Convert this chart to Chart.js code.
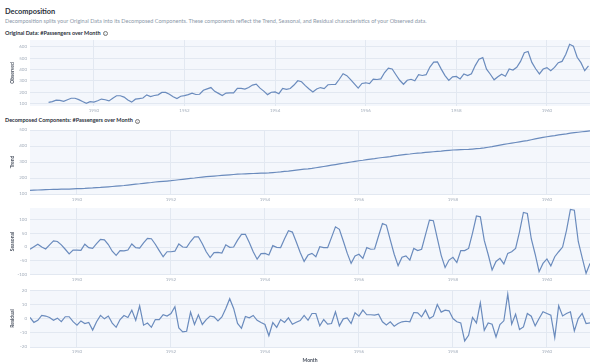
<!DOCTYPE html>
<html>
<head>
<meta charset="utf-8">
<script src="https://cdn.jsdelivr.net/npm/chart.js@4.4.1/dist/chart.umd.min.js"></script>
<style>
  body { margin: 0; width: 600px; height: 364px; background: #fff; font-family: Lato, sans-serif; position: relative; overflow: hidden; }
  .txt { position: absolute; left: 5px; white-space: nowrap; line-height: 1; }
  .h1 { top: 8px; font-size: 7.4px; font-weight: 700; color: #2b313b; }
  .desc { top: 18.6px; font-size: 5.55px; color: #8b97a8; }
  .h2 { font-size: 5.5px; font-weight: 700; color: #2b313b; }
  .info { display: inline-block; box-sizing: border-box; width: 5px; height: 5px; border: 0.6px solid #777; border-radius: 50%;
          font-size: 3.6px; line-height: 3.9px; text-align: center; vertical-align: -0.3px; margin-left: 2px; color: #777; font-weight: 400; }
  canvas { position: absolute; left: 0; }
</style>
</head>
<body>
<div class="txt h1">Decomposition</div>
<div class="txt desc">Decomposition splits your Original Data into its Decomposed Components. These components reflect the Trend, Seasonal, and Residual characteristics of your Observed data.</div>
<div class="txt h2" style="top:30.6px">Original Data: #Passengers over Month<span class="info">i</span></div>
<div class="txt h2" style="top:118.3px">Decomposed Components: #Passengers over Month<span class="info">i</span></div>

<canvas id="observed-chart" width="600" height="80" style="top:34px"></canvas>
<canvas id="trend-chart" width="600" height="79" style="top:124px"></canvas>
<canvas id="seasonal-chart" width="600" height="81" style="top:202px"></canvas>
<canvas id="residual-chart" width="600" height="80" style="top:284px"></canvas>

<script>
const startYear = 1949;
const yearTicks = [1950, 1952, 1954, 1956, 1958, 1960];

const observedTicks = [100, 200, 300, 400, 500, 600];
const trendTicks = [100, 150, 200, 250, 300, 350, 400, 450, 500];
const seasonalTicks = [-100, -50, 0, 50, 100];
const residualTicks = [-20, -15, -10, -5, 0, 5, 10, 15, 20];

const observed = [
    112, 118, 132, 129, 121, 135, 148, 148, 136, 119, 104, 118,
    115, 126, 141, 135, 125, 149, 170, 170, 158, 133, 114, 140,
    145, 150, 178, 163, 172, 178, 199, 199, 184, 162, 146, 166,
    171, 180, 193, 181, 183, 218, 230, 242, 209, 191, 172, 194,
    196, 196, 236, 235, 229, 243, 264, 272, 237, 211, 180, 201,
    204, 188, 235, 227, 234, 264, 302, 293, 259, 229, 203, 229,
    242, 233, 267, 269, 270, 315, 364, 347, 312, 274, 237, 278,
    284, 277, 317, 313, 318, 374, 413, 405, 355, 306, 271, 306,
    315, 301, 356, 348, 355, 422, 465, 467, 404, 347, 305, 336,
    340, 318, 362, 348, 363, 435, 491, 505, 404, 359, 310, 337,
    360, 342, 406, 396, 420, 472, 548, 559, 463, 407, 362, 405,
    417, 391, 419, 461, 472, 535, 622, 606, 508, 461, 390, 432
];

const trend = [
    123, 124, 125, 126, 127, 128, 129, 129, 130, 131, 131, 132,
    133, 134, 135, 137, 138, 140, 141, 143, 145, 147, 149, 151,
    153, 156, 159, 162, 164, 167, 170, 172, 175, 177, 179, 181,
    183, 186, 189, 192, 195, 198, 200, 203, 206, 208, 210, 212,
    214, 216, 218, 220, 222, 224, 225, 226, 227, 228, 229, 230,
    231, 232, 234, 236, 238, 241, 243, 246, 249, 252, 255, 257,
    260, 264, 268, 272, 276, 280, 284, 288, 292, 296, 300, 304,
    308, 311, 315, 318, 321, 325, 328, 331, 334, 338, 341, 345,
    348, 350, 353, 355, 357, 360, 362, 364, 366, 368, 371, 373,
    375, 376, 377, 378, 379, 381, 383, 385, 388, 392, 396, 401,
    406, 410, 414, 418, 422, 426, 430, 434, 439, 444, 449, 454,
    458, 462, 465, 469, 473, 476, 480, 483, 486, 489, 492, 495
];

const seasonal = [
    -8, 1, 10, 0, -7, 8, 22, 20, 8, -8, -25, -11,
    -11, -12, 10, -2, -5, 12, 28, 26, 9, -15, -30, -13,
    -14, -11, 11, -2, -4, 15, 31, 30, 10, -13, -35, -17,
    -17, -15, 11, 0, -1, 20, 37, 37, 12, -17, -38, -20,
    -19, -22, 8, -1, 0, 25, 46, 46, 16, -17, -44, -24,
    -23, -29, 5, -1, -2, 30, 59, 54, 18, -20, -52, -29,
    -23, -35, 1, -2, -2, 35, 73, 64, 22, -22, -59, -32,
    -26, -41, -2, -8, -7, 40, 85, 79, 26, -26, -67, -37,
    -32, -47, -5, -13, -8, 45, 97, 95, 32, -30, -74, -47,
    -37, -56, -13, -13, -5, 50, 112, 109, 24, -27, -83, -52,
    -41, -61, -23, -17, -5, 55, 125, 121, 30, -26, -89, -59,
    -43, -68, -35, -17, 0, 60, 136, 133, 20, -38, -95, -59
];

const residual = [
    1, -2.5, -1, 2.4, 2, 1, -1, 0.5, -2, 1.5, 1.5, -2,
    -4.5, -1.5, -3.3, -2.5, -8, -2, 2.5, 0, 2, -3, -6, -0.5,
    2.4, 1, 6.2, -1, 9.3, -4.5, -3, -6, -0.5, -0.5, 3, 2,
    3.8, 8.6, -6.4, -9.3, -8.8, 4.8, -4, 2.9, -4, -0.5, 2, 1.4,
    -1.4, 1.4, 7.4, 14.3, 7.4, -3.3, -6.7, 1.7, 0.7, 2.4, -1, -2.6,
    -4, -12, -2.6, -6, -0.5, -2.6, 0.7, -3.8, -2.4, -1.2, 2.4, -1,
    3.8, 3.8, -5, -0.5, -3.8, -3.3, 5, -5, 0, 0.7, -3.3, 4.3,
    1.9, 6.2, 2.9, 2.9, 2.6, 3.3, -2.1, -4.3, -2.1, -5.2, -3.3, -2.1,
    -1.7, -2.1, 4.5, 4.3, 1.4, 6.2, 0.2, 1.9, 10.2, 4.8, 6.2, 5.7,
    0.2, -2.1, -2.9, -15.7, -11.7, 1, -2.9, 11.4, -8.1, -2.9, -3.8, -12.9,
    -4, -1.4, 17.6, -3.8, 3.3, -7.6, -5.7, 3.8, 1.9, -5, 0.2, 5,
    3.8, 2.6, -13.3, 9.3, 2.1, 3.8, 5, -8.6, 0.2, 3.8, -3.3, -2.9
];

// month position on the time axis (years as decimals)
const monthX = observed.map((_, i) => startYear + i / 12);

const lineColor = '#6a8bbd';
const gridColor = '#e2e8f1';
const tickColor = '#a3adbb';
const titleColor = '#4a5260';

const plotBackground = {
    id: 'plotBackground',
    beforeDraw(chart) {
        const { ctx, chartArea: a } = chart;
        ctx.save();
        ctx.fillStyle = '#f4f7fc';
        ctx.fillRect(a.left, a.top, a.right - a.left, a.bottom - a.top);
        ctx.restore();
    }
};

function renderPanel(canvasId, values, cfg) {
    new Chart(document.getElementById(canvasId), {
        type: 'line',
        data: {
            datasets: [{
                data: values.map((v, i) => ({ x: monthX[i], y: v })),
                borderColor: lineColor,
                borderWidth: 1.2,
                pointRadius: 0,
                tension: 0,
                fill: false
            }]
        },
        options: {
            responsive: false,
            animation: false,
            events: [],
            layout: { padding: { top: 6, right: 10, left: 0, bottom: 0 } },
            plugins: { legend: { display: false }, tooltip: { enabled: false } },
            scales: {
                x: {
                    type: 'linear',
                    min: cfg.xMin,
                    max: cfg.xMax,
                    afterBuildTicks: (s) => { s.ticks = yearTicks.map((v) => ({ value: v })); },
                    afterFit: (s) => { s.height = cfg.xHeight; },
                    grid: { color: gridColor, drawTicks: false },
                    border: { display: false },
                    ticks: {
                        padding: cfg.xPad,
                        maxRotation: 0,
                        color: tickColor,
                        font: { family: 'Lato', size: 4.5 },
                        callback: (v) => String(v)
                    },
                    title: {
                        display: !!cfg.xTitle,
                        text: cfg.xTitle || '',
                        color: titleColor,
                        font: { family: 'Lato', size: 5, weight: 'bold' },
                        padding: { top: 0, bottom: 1 }
                    }
                },
                y: {
                    min: cfg.yMin,
                    max: cfg.yMax,
                    afterBuildTicks: (s) => { s.ticks = cfg.yTicks.map((v) => ({ value: v })); },
                    afterFit: (s) => { s.width = 30; },
                    grid: { color: gridColor, drawTicks: false },
                    border: { display: false },
                    ticks: {
                        padding: 3,
                        color: tickColor,
                        font: { family: 'Lato', size: 4.5 },
                        callback: (v) => String(v)
                    },
                    title: {
                        display: true,
                        text: cfg.yTitle,
                        color: titleColor,
                        font: { family: 'Lato', size: 5, weight: 'bold' },
                        padding: { top: 9, bottom: 0 }
                    }
                }
            }
        },
        plugins: [plotBackground]
    });
}

renderPanel('observed-chart', observed, {
    xMin: 1948.59, xMax: 1960.95, xHeight: 8, xPad: 1.5,
    yMin: 80, yMax: 660, yTicks: observedTicks, yTitle: 'Observed'
});
renderPanel('trend-chart', trend, {
    xMin: 1949, xMax: 1960 + 11 / 12, xHeight: 9, xPad: 3,
    yMin: 100, yMax: 500, yTicks: trendTicks, yTitle: 'Trend'
});
renderPanel('seasonal-chart', seasonal, {
    xMin: 1949, xMax: 1960 + 11 / 12, xHeight: 8, xPad: 2,
    yMin: -101, yMax: 141, yTicks: seasonalTicks, yTitle: 'Seasonal'
});
renderPanel('residual-chart', residual, {
    xMin: 1949, xMax: 1960 + 11 / 12, xHeight: 17, xPad: 2,
    yMin: -20, yMax: 20.5, yTicks: residualTicks, yTitle: 'Residual', xTitle: 'Month'
});
</script>
</body>
</html>
